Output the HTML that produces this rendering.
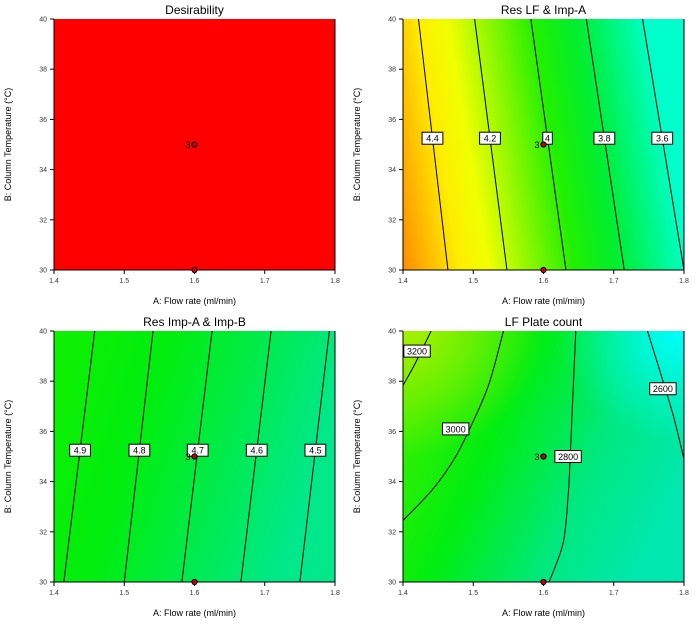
<!DOCTYPE html>
<html><head><meta charset="utf-8"><style>
html,body{margin:0;padding:0;background:#fff;width:700px;height:624px;overflow:hidden}
svg{display:block;font-family:"Liberation Sans",sans-serif}
</style></head><body>
<svg id="chart" width="700" height="624" viewBox="0 0 700 624">
<defs>
<linearGradient id="gB" x1="0" y1="1" x2="1" y2="0.85"><stop offset="0" stop-color="#ff8c00"/><stop offset="0.2" stop-color="#ffee00"/><stop offset="0.3" stop-color="#f0ff00"/><stop offset="0.6" stop-color="#20f000"/><stop offset="0.75" stop-color="#00ee30"/><stop offset="1" stop-color="#00ffcc"/></linearGradient>
<linearGradient id="gC" x1="0" y1="0" x2="1" y2="0.3"><stop offset="0" stop-color="#10f000"/><stop offset="0.4" stop-color="#00ee10"/><stop offset="1" stop-color="#00e88a"/></linearGradient>
<linearGradient id="gD" x1="0" y1="0.2" x2="1" y2="0.6"><stop offset="0" stop-color="#40f000"/><stop offset="0.35" stop-color="#00ee10"/><stop offset="0.7" stop-color="#00e880"/><stop offset="1" stop-color="#00e8b0"/></linearGradient>
<radialGradient id="gD2" cx="0" cy="0" r="0.5"><stop offset="0" stop-color="#a8f000" stop-opacity="1"/><stop offset="1" stop-color="#a8f000" stop-opacity="0"/></radialGradient>
<radialGradient id="gD3" cx="1" cy="0" r="0.45"><stop offset="0" stop-color="#00ffff" stop-opacity="1"/><stop offset="1" stop-color="#00ffff" stop-opacity="0"/></radialGradient>
</defs>
</svg>
<script>
// Res LF & Imp-A contour levels (x at T=30, x at T=40)
const resLfLevels=["4.4","4.2","4","3.8","3.6"];
const resLfX30=[1.464,1.548,1.632,1.715,1.8];
const resLfX40=[1.422,1.502,1.582,1.661,1.741];
// Res Imp-A & Imp-B
const resAbLevels=["4.9","4.8","4.7","4.6","4.5","4.4"];
const resAbX30=[1.414,1.5,1.582,1.666,1.75,1.834];
const resAbX40=[1.458,1.541,1.625,1.709,1.792,1.876];
// LF Plate count contour curves [flow, temp]
const plateLevels=["3200","3000","2800","2600"];
const plate3200=[[1.4,37.83],[1.418,38.74],[1.44,40]];
const plate3000=[[1.4,32.46],[1.442,33.68],[1.475,35.0],[1.501,36.47],[1.523,37.94],[1.543,40]];
const plate2800=[[1.608,30],[1.628,31.56],[1.635,33.42],[1.638,35.0],[1.641,36.9],[1.646,40]];
const plate2600=[[1.748,40],[1.768,38.2],[1.785,36.6],[1.8,34.9]];
const plateLabelPos=[[1.42,39.2],[1.475,36.1],[1.635,35.0],[1.77,37.7]];
// design points
const designX=[1.6,1.6];
const designY=[35,30];
const xTicks=[1.4,1.5,1.6,1.7,1.8];
const yTicks=[30,32,34,36,38,40];

const NS="http://www.w3.org/2000/svg";
const svg=document.getElementById('chart');
function mk(tag,attrs,parent){const e=document.createElementNS(NS,tag);for(const k in attrs)e.setAttribute(k,attrs[k]);(parent||svg).appendChild(e);return e;}
const panels=[
 {L:54,T:19,title:"Desirability",fill:"#ff0000",name:"desirability"},
 {L:403,T:19,title:"Res LF & Imp-A",fill:"url(#gB)",name:"res-lf-imp-a"},
 {L:54,T:331,title:"Res Imp-A & Imp-B",fill:"url(#gC)",name:"res-imp-a-imp-b"},
 {L:403,T:331,title:"LF Plate count",fill:"url(#gD)",name:"lf-plate-count"}];
const W=281,H=251;
panels.forEach((p,i)=>{
 const g=mk('g',{});
 
 
 const sx=v=>p.L+(v-1.4)/0.4*W, sy=v=>p.T+H-(v-30)/10*H;
 p.sx=sx;p.sy=sy;
 const cid='clip'+i;
 const cp=mk('clipPath',{id:cid},g);mk('rect',{x:p.L,y:p.T,width:W,height:H},cp);
 const bg=mk('rect',{x:p.L,y:p.T,width:W,height:H,fill:p.fill},g);
 
 
 if(i===3){mk('rect',{x:p.L,y:p.T,width:W,height:H,fill:"url(#gD2)"},g);mk('rect',{x:p.L,y:p.T,width:W,height:H,fill:"url(#gD3)"},g);}
 const cg=mk('g',{'clip-path':'url(#'+cid+')'},g);
 p.cg=cg;p.g=g;
 mk('line',{x1:p.L,y1:p.T,x2:p.L,y2:p.T+H,stroke:'#000','stroke-width':1},g);
 mk('line',{x1:p.L,y1:p.T+H,x2:p.L+W,y2:p.T+H,stroke:'#000','stroke-width':1},g);
 mk('line',{x1:p.L+W,y1:p.T,x2:p.L+W,y2:p.T+H,stroke:'#000','stroke-width':1},g);
 xTicks.forEach(t=>{mk('line',{x1:sx(t),y1:p.T+H,x2:sx(t),y2:p.T+H+4,stroke:'#000'},g);
  const tx=mk('text',{x:sx(t),y:p.T+H+13,'font-size':7,'text-anchor':'middle',fill:'#333'},g);tx.textContent=t.toFixed(1);
  });
 yTicks.forEach(t=>{mk('line',{x1:p.L-4,y1:sy(t),x2:p.L,y2:sy(t),stroke:'#000'},g);
  const tx=mk('text',{x:p.L-7,y:sy(t)+2.5,'font-size':7,'text-anchor':'end',fill:'#333'},g);tx.textContent=t;
  });
 const ti=mk('text',{x:p.L+W/2,y:p.T-5,'font-size':12,'text-anchor':'middle',fill:'#000'},g);ti.textContent=p.title;
 
 const xt=mk('text',{x:p.L+W/2,y:p.T+H+34,'font-size':9,'text-anchor':'middle',fill:'#000'},g);xt.textContent="A: Flow rate (ml/min)";
 
 const yx=p.L-43,yy=p.T+H/2;
 const yt=mk('text',{x:yx,y:yy,'font-size':9,'text-anchor':'middle',fill:'#000',transform:`rotate(-90 ${yx} ${yy})`},g);yt.textContent="B: Column Temperature (°C)";
 
});
function label(p,x,y,txt){
 const w=txt.length*5.6+4;
 const r=mk('rect',{x:x-w/2,y:y-6,width:w,height:12,fill:'#fff',stroke:'#000','stroke-width':1},p.g);
 
 const t=mk('text',{x:x,y:y+3.5,'font-size':9,'text-anchor':'middle',fill:'#000'},p.g);t.textContent=txt;
}
function straight(p,lv,x30,x40,ly){
 lv.forEach((L,k)=>{
  const ln=mk('line',{x1:p.sx(x30[k]),y1:p.sy(30),x2:p.sx(x40[k]),y2:p.sy(40),stroke:'#000','stroke-width':1},p.cg);
  
 });
 lv.forEach((L,k)=>{const xv=x30[k]+(x40[k]-x30[k])*(ly-30)/10; if(xv<1.8) label(p,p.sx(xv),p.sy(ly),L);});
}
straight(panels[1],resLfLevels,resLfX30,resLfX40,35.25);
straight(panels[2],resAbLevels,resAbX30,resAbX40,35.25);
const p3=panels[3];
function smooth(pts){
 let d='M'+pts[0][0].toFixed(1)+' '+pts[0][1].toFixed(1);
 for(let i=0;i<pts.length-1;i++){
  const p0=pts[Math.max(i-1,0)],p1=pts[i],p2=pts[i+1],p4=pts[Math.min(i+2,pts.length-1)];
  const c1=[p1[0]+(p2[0]-p0[0])/6,p1[1]+(p2[1]-p0[1])/6];
  const c2=[p2[0]-(p4[0]-p1[0])/6,p2[1]-(p4[1]-p1[1])/6];
  d+=` C${c1[0].toFixed(1)} ${c1[1].toFixed(1)} ${c2[0].toFixed(1)} ${c2[1].toFixed(1)} ${p2[0].toFixed(1)} ${p2[1].toFixed(1)}`;
 }
 return d;
}
[plate3200,plate3000,plate2800,plate2600].forEach((c,k)=>{
 const pts=c.map(pt=>[p3.sx(pt[0]),p3.sy(pt[1])]);
 const pa=mk('path',{d:smooth(pts),fill:'none',stroke:'#000','stroke-width':1},p3.cg);
 
});
plateLevels.forEach((L,k)=>label(p3,p3.sx(plateLabelPos[k][0]),p3.sy(plateLabelPos[k][1]),L));
panels.forEach(p=>{
 designX.forEach((x,k)=>{
  const c=mk('circle',{cx:p.sx(x),cy:p.sy(designY[k]),r:2.6,fill:'#cc0000',stroke:'#000','stroke-width':1},p.g);
  
 });
 const t=mk('text',{x:p.sx(designX[0])-4,y:p.sy(designY[0])+3.5,'font-size':9,'text-anchor':'end',fill:'#000'},p.g);t.textContent="3";
 
});
</script>
</body></html>
